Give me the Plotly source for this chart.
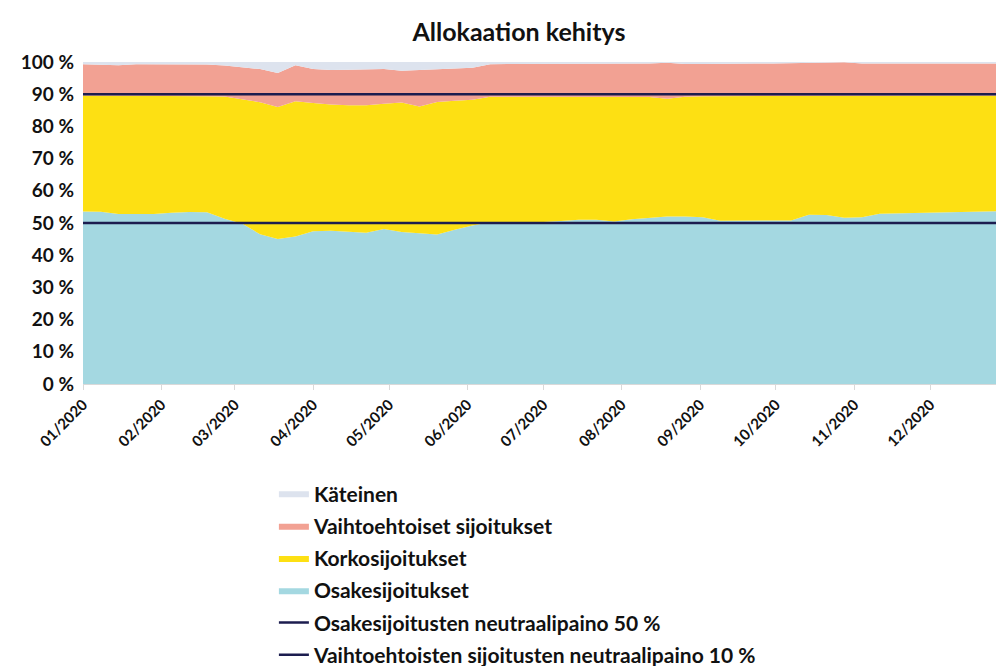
import plotly.graph_objects as go

dates = [
    "2020-01-01", "2020-01-08", "2020-01-15", "2020-01-22", "2020-01-29",
    "2020-02-05", "2020-02-12", "2020-02-19", "2020-02-26", "2020-03-04",
    "2020-03-11", "2020-03-18", "2020-03-25", "2020-04-01", "2020-04-08",
    "2020-04-15", "2020-04-22", "2020-04-29", "2020-05-06", "2020-05-13",
    "2020-05-20", "2020-05-27", "2020-06-03", "2020-06-10", "2020-06-17",
    "2020-06-24", "2020-07-01", "2020-07-08", "2020-07-15", "2020-07-22",
    "2020-07-29", "2020-08-05", "2020-08-12", "2020-08-19", "2020-08-26",
    "2020-09-02", "2020-09-09", "2020-09-16", "2020-09-23", "2020-09-30",
    "2020-10-07", "2020-10-14", "2020-10-21", "2020-10-28", "2020-11-04",
    "2020-11-11", "2020-11-18", "2020-11-25", "2020-12-02", "2020-12-09",
    "2020-12-16", "2020-12-23", "2020-12-30",
]

osake = [53.6, 53.5, 52.8, 52.9, 52.8, 53.2, 53.4, 53.3, 51.3, 49.8,
         46.5, 45.0, 45.8, 47.4, 47.6, 47.3, 47.0, 48.1, 47.2, 46.8,
         46.4, 47.9, 49.2, 50.2, 50.2, 50.2, 50.3, 50.6, 51.0, 51.0,
         50.5, 51.2, 51.6, 52.0, 52.0, 51.8, 50.7, 50.7, 50.6, 50.6,
         50.8, 52.6, 52.5, 51.6, 51.8, 52.9, 53.0, 53.0, 53.1, 53.2,
         53.3, 53.6, 53.7]
korko = [36.0, 36.1, 36.7, 36.6, 36.7, 36.3, 36.1, 36.1, 38.0, 38.5,
         41.0, 41.0, 42.0, 39.9, 39.2, 39.3, 39.6, 38.9, 40.2, 39.4,
         41.2, 40.1, 39.1, 39.0, 39.0, 39.0, 38.9, 38.6, 38.3, 38.3,
         38.7, 38.0, 37.5, 36.6, 37.2, 37.6, 38.7, 38.8, 39.0, 39.0,
         38.8, 37.0, 37.1, 38.0, 37.8, 36.7, 36.6, 36.6, 36.5, 36.4,
         36.3, 36.0, 35.9]
vaihto = [9.7, 9.6, 9.5, 9.8, 9.8, 9.8, 9.8, 9.8, 9.6, 10.0,
          10.3, 10.6, 11.2, 10.5, 10.7, 11.0, 11.1, 10.8, 9.9, 11.4,
          10.2, 10.0, 9.9, 10.1, 10.2, 10.2, 10.2, 10.2, 10.1, 10.1,
          10.2, 10.2, 10.4, 11.2, 10.2, 10.0, 10.1, 9.9, 9.9, 9.9,
          10.0, 10.1, 10.4, 10.3, 9.9, 9.9, 9.9, 9.9, 9.9, 9.9,
          9.9, 9.9, 9.9]
kateinen = [0.7, 0.8, 1.0, 0.7, 0.7, 0.7, 0.7, 0.8, 1.1, 1.7,
            2.2, 3.4, 1.0, 2.2, 2.5, 2.4, 2.3, 2.2, 2.7, 2.4,
            2.2, 2.0, 1.8, 0.7, 0.6, 0.6, 0.6, 0.6, 0.6, 0.6,
            0.6, 0.6, 0.5, 0.2, 0.6, 0.6, 0.5, 0.6, 0.5, 0.5,
            0.4, 0.3, 0.0, 0.1, 0.5, 0.5, 0.5, 0.5, 0.5, 0.5,
            0.5, 0.5, 0.5]

neutral_osake = 50
neutral_vaihto = 10

y_ticks = [0, 10, 20, 30, 40, 50, 60, 70, 80, 90, 100]
y_tick_labels = [f"{v} %" for v in y_ticks]

FONT = "Lato"
NAVY = "#1c1d4f"

fig = go.Figure()

areas = [
    ("Osakesijoitukset", osake, "#a4d8e1", 4),
    ("Korkosijoitukset", korko, "#fde013", 3),
    ("Vaihtoehtoiset sijoitukset", vaihto, "#f2a193", 2),
    ("Käteinen", kateinen, "#dde3ee", 1),
]
for name, vals, col, rank in areas:
    fig.add_trace(go.Scatter(
        x=dates, y=vals, name=name, mode="lines",
        stackgroup="alloc", line=dict(width=0, color=col),
        fillcolor=col, legendrank=rank, legendgroup=name,
    ))

fig.add_trace(go.Scatter(
    x=dates, y=[neutral_osake] * len(dates), mode="lines",
    name="Osakesijoitusten neutraalipaino 50 %",
    line=dict(color=NAVY, width=2.5), legendrank=5, legendgroup="l50",
))
fig.add_trace(go.Scatter(
    x=dates, y=[100 - neutral_vaihto] * len(dates), mode="lines",
    name="Vaihtoehtoisten sijoitusten neutraalipaino 10 %",
    line=dict(color=NAVY, width=2.5), legendrank=6, legendgroup="l10",
))

fig.update_layout(
    width=996, height=666,
    margin=dict(l=83, r=0, t=62, b=282, autoexpand=False),
    paper_bgcolor="white", plot_bgcolor="white",
    font=dict(family=FONT, size=16, color="#111111", weight="bold"),
    title=dict(text="Allokaation kehitys", x=0.521, xref="container",
               xanchor="center", y=0.952, yanchor="middle",
               font=dict(family=FONT, size=25, weight="bold", color="#111111")),
    showlegend=True,
    legend=dict(x=0.275, y=0.2895, xref="container", yref="container",
                xanchor="left", yanchor="top",
                traceorder="grouped", tracegroupgap=2,
                font=dict(family=FONT, size=21, weight="bold"),
                bgcolor="rgba(0,0,0,0)"),
    xaxis=dict(type="date", range=["2020-01-01", "2020-12-27"],
               dtick="M1", tick0="2020-01-01", tickformat="%m/%Y",
               tickangle=-45, showgrid=False, zeroline=False,
               showline=True, linecolor="#d9d9d9", linewidth=1,
               ticks="outside", ticklen=5, tickcolor="#d9d9d9",
               automargin=False,
               tickfont=dict(family=FONT, size=15, weight="bold")),
    yaxis=dict(range=[0, 100], tickvals=y_ticks, ticktext=y_tick_labels,
               showgrid=False, zeroline=False, showline=False,
               ticklabelstandoff=8, automargin=False,
               tickfont=dict(family=FONT, size=19, weight="bold")),
)

fig.write_html("out.html",
               config={"displayModeBar": False},
               post_script="document.body.style.margin='0px';document.body.style.padding='0px';")
